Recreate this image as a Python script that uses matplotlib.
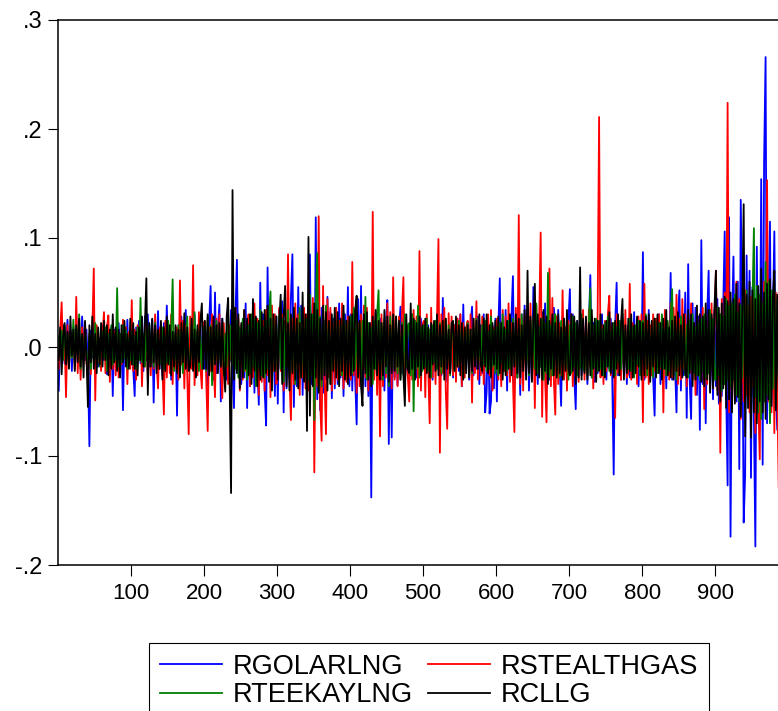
import numpy as np
import matplotlib
matplotlib.use("Agg")
import matplotlib.pyplot as plt

plt.rcParams["font.family"] = ["Liberation Sans", "DejaVu Sans"]

# Daily returns in thousandths, every other observation, 10 values per row (20 obs)
rgolarlng = [
    -40, 12, -8, 20, -15, 6, 25, -10, 14, -22,
    18, -5, 30, -14, 9, -20, 28, 4, -12, 16,
    -20, -91, 15, -10, 24, -8, 12, -18, 6, -14,
    20, -12, 8, -25, 14, -10, 18, -45, 16, 7,
    -14, 22, -6, 12, -58, 15, -9, 25, -18, 10,
    12, -20, -45, 18, -8, 24, -15, 10, -22, 28,
    -12, 30, -18, 8, 25, -51, 14, -10, 33, -20,
    18, -26, 22, -14, 38, -8, 16, -30, 12, -18,
    14, -63, 20, -12, 28, -18, 10, 34, -22, 8,
    -16, 24, -10, 30, -25, 12, -18, 20, -28, 16,
    -20, 14, -35, 22, 56, -28, -30, 50, -24, 18,
    39, -50, 26, -18, 12, -30, 20, -14, 34, -22,
    -56, 28, 80, -20, 15, -34, 24, -28, 40, -56,
    22, -36, 18, 30, -42, 26, -18, -53, 59, -24,
    30, -40, -72, 73, -26, 36, -30, 18, -45, 28,
    -52, 34, -20, 42, -60, 24, -38, 30, -28, 46,
    85, -55, 30, -36, 55, -24, 38, -44, 20, -30,
    -40, 28, 85, -34, 40, -65, 119, -48, 30, -58,
    36, -42, 24, -30, 46, -20, 32, -47, 26, -38,
    22, -34, 40, -28, 16, -45, 30, -24, 55, -36,
    30, -40, 20, -30, -71, 44, -28, 56, -42, 24,
    -36, 28, -45, 22, -138, 40, -25, 32, -30, 18,
    26, -30, 18, -40, 22, 43, -89, 20, -83, 30,
    -28, 20, -35, 16, 37, -24, 28, -32, 12, -26,
    18, -22, 30, -15, 24, -28, 14, -20, 26, -12,
    -18, 24, -14, 20, -25, 12, -30, 16, -10, 22,
    -20, 14, -26, 45, -18, 22, -32, 12, -24, 18,
    -28, 20, -14, 26, -22, 30, -36, 39, -18, 14,
    22, -30, 18, 37, -26, 14, -20, 28, -34, 20,
    -24, 30, -60, -41, 28, -61, -50, 20, -38, 26,
    -50, 18, 63, -30, 24, -22, 34, -40, 20, -18,
    28, 65, -36, 22, -28, 16, -44, 30, -20, 38,
    -22, 30, -40, 18, -30, 55, -26, 20, -34, 24,
    -18, 32, -28, 40, -36, 22, -30, 14, -24, 36,
    20, -26, 34, -18, -54, 28, -20, 16, -30, 24,
    53, -22, 30, -28, -57, 24, -18, 30, -26, 20,
    -20, 26, -34, 18, 66, -28, 22, -32, 14, -24,
    18, -24, 30, -16, 22, -30, 14, -20, 26, -28,
    -117, 20, 59, -26, 18, -30, 24, -22, 16, -34,
    20, -28, 14, -22, 32, -18, 26, -36, 12, -24,
    87, -30, 22, -26, 34, -20, 18, -28, -63, 26,
    -22, 30, -34, 16, -28, 24, -38, 20, -26, 68,
    -30, 24, -18, -60, 30, 52, -40, 20, -26, 50,
    -65, 76, -30, -66, 40, -22, 36, -44, 28, -76,
    98, -34, 26, -70, 30, 70, -40, 22, -48, 34,
    -36, 44, -52, 30, -45, 38, 106, -40, -127, 119,
    -174, 20, 83, -38, -50, 60, -112, 135, 40, -161,
    -118, 84, -40, 70, -120, 55, -60, -183, 92, -50,
    -60, 154, -108, 172, 266, -70, 40, 115, -55, 30,
    106, -40, -76, 50,
]

rstealthgas = [
    -20, 15, 41, -12, 8, -46, 20, -18, 10, -8,
    14, -20, 46, -24, 12, -30, 18, -8, 22, -15,
    -18, 10, -25, 16, 72, -49, 20, -14, 8, -22,
    12, 32, -24, 18, 29, -32, 10, -20, 15, -26,
    20, -28, 12, -16, 25, -10, 18, -34, 14, -20,
    43, -22, 16, -30, 20, -12, 24, -36, 10, -18,
    22, -30, 14, -26, 18, -20, 30, -14, -38, 16,
    20, -18, -62, 24, -28, 16, -24, 30, -34, 12,
    -20, 18, -30, 61, -16, 24, -38, 20, -26, -80,
    28, -20, 75, -35, 14, -26, 32, -18, -38, 20,
    24, -30, -77, 18, -22, 30, -16, -46, 26, -20,
    30, -18, -47, 22, -26, 14, -34, 20, -12, 28,
    -24, 36, -18, 26, -40, 20, -30, 34, -22, 16,
    30, -36, 22, -28, 40, -20, 26, -44, 18, -32,
    24, -40, 34, -26, 20, -46, 38, -22, 30, -34,
    -28, 36, -22, 30, -40, 24, -18, 85, -30, -67,
    26, -34, 40, -20, 30, -44, 22, -28, 36, -38,
    30, -40, 36, -26, 45, -115, 28, -36, 120, -50,
    -86, 56, -30, -80, 44, -28, 36, -40, 22, -34,
    36, -30, 24, -26, 40, -38, 20, -32, 28, -24,
    -30, 78, -26, 34, -42, 22, -36, 30, -20, 38,
    -28, 36, -40, 20, -34, 124, -30, 26, -44, 22,
    -82, 30, -36, 24, -28, 40, -22, 32, -38, 64,
    -30, 22, -36, 28, -24, 30, 64, -40, 18, -26,
    -50, 26, -30, 34, -22, 28, -36, 88, -40, 20,
    24, -46, 30, -20, -70, 36, -28, 22, -34, 26,
    99, -97, 30, -24, 36, -40, -75, 31, -22, 28,
    -26, 20, -32, 26, -18, 30, -36, 22, -28, 18,
    24, -20, 30, -51, 26, -24, 42, -30, 20, -26,
    28, -34, 22, -18, 30, -26, 34, -40, 18, -22,
    26, -30, 20, -36, 34, -22, 28, -26, 40, -32,
    22, -30, -78, 36, -28, 121, -34, 26, -40, 30,
    -26, 34, -22, 40, -30, 24, -56, 38, -20, 28,
    105, -64, 30, -28, -69, 24, 72, -36, 45, -30,
    -62, 28, -34, 22, -26, 52, -30, 18, -40, 24,
    -22, 30, -36, 24, -28, 20, -32, 26, -20, 34,
    -30, 22, -26, 34, -18, 28, -38, 20, -24, 30,
    211, -28, 20, -34, 24, -22, 30, 47, -26, 18,
    22, -65, 30, -24, 18, -30, 26, -20, 34, -28,
    -24, 58, -30, 22, -26, 18, -34, 28, -20, 30,
    -69, 58, -28, 24, -34, 20, -26, 30, -22, 26,
    -24, 30, -20, 28, -60, 34, -26, 22, -30, 40,
    -28, 36, -22, 48, -34, 26, -30, 44, -20, 30,
    -36, 28, -24, 40, -30, 22, -44, 34, -26, 30,
    -30, 36, -57, 24, -34, 30, -26, 40, -38, 28,
    70, -40, 30, -97, 44, -36, 50, -30, 224, -60,
    40, -55, 36, -48, 60, -30, 44, -66, 30, -50,
    52, -44, 38, -60, 46, -36, 56, -79, 40, -50,
    -103, 48, -40, 60, -30, 153, -50, 36, -60, 44,
    -79, 50, -40, -129,
]

rteekaylng = [
    10, -8, 15, -12, 20, -5, 12, -18, 8, -10,
    25, -14, 18, -6, 30, -20, 10, -12, 16, -8,
    -15, 12, -20, 8, -10, 22, -14, 6, -18, 10,
    14, -10, 18, -22, 12, -8, 20, -16, 10, -12,
    54, -18, 12, -14, 20, -10, 16, -20, 8, -12,
    14, -16, 10, -20, 18, -12, 45, -14, 12, -18,
    16, -10, 20, -14, 8, -18, 22, -12, 14, -16,
    -12, 18, -20, 10, -14, 24, -16, 12, 62, -22,
    12, -18, 20, -10, 16, -24, 14, -12, 28, -16,
    -14, 20, -18, 32, -12, 16, -22, 10, -20, 18,
    14, -22, 28, -16, 20, -35, 18, -12, 24, -20,
    16, -14, 22, -26, 12, -18, 30, -12, 20, -16,
    36, -20, 24, -28, 18, -14, 26, -22, 16, -30,
    20, -24, 30, -18, 26, -36, 22, -20, 34, -26,
    18, -28, 24, -20, 30, 51, -34, 26, -22, 20,
    -24, 30, -20, 26, -32, 22, -18, 34, -26, 20,
    -22, 28, -34, 24, -20, 36, -28, 22, -30, 26,
    20, -30, 48, -26, 30, -67, 40, 86, -40, 28,
    -36, 30, -24, 38, -28, 22, -34, 26, -20, 30,
    -22, 26, -30, 20, -26, 32, -18, 24, -28, 22,
    28, -24, 36, -20, 30, -26, 22, -32, 24, -18,
    46, -30, 22, -26, 18, -34, 24, -20, 30, 52,
    -28, 22, -30, 26, -24, 18, -36, 28, -20, 24,
    -20, 28, -24, 18, -30, 22, -26, 30, -18, 20,
    22, -26, 30, -59, 24, -20, 38, -28, 18, -22,
    20, -18, 26, -22, 16, -28, 20, -14, 24, -20,
    -16, 22, -24, 18, -20, 26, -14, 20, -26, 16,
    18, -22, 14, -18, 24, -16, 20, -28, 16, -14,
    22, -20, 16, -24, 18, -14, 26, -20, 12, -18,
    20, -16, 24, -22, 14, -20, 28, -18, 16, -24,
    18, -26, 22, -14, 30, -20, 16, -22, 24, -18,
    -20, 26, -16, 22, -28, 18, -24, 30, -14, 20,
    -22, 18, -26, 24, -16, 28, -20, 40, -24, 18,
    -18, 26, -30, 22, -24, 68, -28, 20, -26, 22,
    30, -22, 18, -28, 24, -16, 26, -20, 22, -30,
    20, -24, 28, -18, 22, -26, 16, -20, 30, -18,
    -22, 18, -26, 24, 54, -28, 20, -18, 26, -22,
    24, -20, 16, -26, 22, -18, 28, -22, 14, -20,
    22, -26, 18, -14, 24, -20, 30, -24, 16, -18,
    -20, 26, -22, 18, -28, 20, -16, 24, -26, 22,
    24, -18, 30, -26, 20, -22, 18, -28, 26, -20,
    -24, 22, -18, 30, -20, 16, -26, 24, -22, 28,
    53, -26, 20, -30, 24, -18, 28, -22, 18, -26,
    20, -28, 24, -20, 30, -24, 18, -26, 22, -30,
    26, -22, 30, -28, 18, -24, 34, -20, 26, -30,
    -30, 36, -26, 30, -40, 28, -34, 44, -30, 38,
    -36, 40, -30, 48, -44, 32, -50, 38, -28, 46,
    -40, 52, -34, 44, -58, 38, 109, -46, 56, -60,
    48, -66, 40, -50, 78, -44, 60, -70, 52, -38,
    60, -52, 44, -30,
]

rcllg = [
    -12, 18, -25, 10, 22, -16, 14, -20, 28, -8,
    16, -22, 20, -14, 26, -18, 12, -28, 24, -10,
    -55, 20, -14, 28, -20, 12, -24, 18, -16, 22,
    -18, 24, -12, 20, -26, 16, -20, 30, -14, 18,
    -22, 16, -28, 20, -14, 24, -18, 12, -20, 26,
    -16, 22, -20, 14, -26, 18, -12, 28, -18, 20,
    63, -44, 22, -18, 26, -14, 20, -24, 16, -20,
    24, -30, 18, -22, 28, -16, 20, -26, 14, -18,
    20, -24, 16, -28, 22, -14, 31, -20, 18, -22,
    -18, 26, -22, 16, -28, 20, -14, 24, 40, -20,
    24, -20, 30, -26, 18, -22, 28, -16, 20, -24,
    22, -18, 26, -20, -41, 28, 45, -30, -134, 144,
    -30, 36, -24, 30, -38, 22, -28, 34, -20, 26,
    -26, 30, -34, 44, -22, 28, -36, 24, -30, 32,
    -28, 34, -24, 38, -32, 26, -40, 30, -22, 28,
    -30, 24, 48, -34, 28, 56, -36, 22, -40, 30,
    -24, 36, -30, 26, -38, 22, -28, 50, -32, 30,
    -77, 101, -63, 30, -36, 40, -28, 34, -42, 26,
    -30, 38, -26, 32, -40, 24, -34, 30, -22, 36,
    -28, 32, -36, 26, -22, 38, -30, 24, -34, 28,
    -26, 30, -22, 34, 47, -28, 24, -36, -54, 30,
    -24, 32, -30, 22, -36, 28, -20, 34, -26, 24,
    -30, 22, -26, 34, -18, 28, -32, 20, -24, 30,
    -22, 28, -18, 24, -30, 20, -26, -54, 30, -20,
    -24, 40, -20, 26, -30, 22, -18, 28, -26, 20,
    -20, 26, -24, 18, -28, 22, -16, 24, -22, 30,
    -26, 20, -18, 24, -30, 26, -20, 16, -24, 22,
    24, -22, 28, -18, 20, -26, 22, -30, 18, -24,
    20, -28, 16, -22, 26, -18, 24, -20, 30, -16,
    -22, 26, -18, 30, -24, 20, -28, 22, -16, 24,
    -20, 28, -24, 22, -30, 18, -26, 24, -20, 30,
    -26, 22, -18, 30, -24, 26, -28, 20, -22, 34,
    -30, 70, -24, 28, -32, 22, 58, -26, 30, -28,
    26, -30, 34, -22, 28, -34, 24, -20, 30, -26,
    22, -28, 30, -24, 18, -30, 26, -22, 34, -20,
    -26, 30, -22, 28, -34, 24, -28, 73, -30, 26,
    -24, 28, -30, 22, -26, 34, -20, 26, -32, 24,
    -22, 30, -26, 20, -28, 24, -18, 32, -24, 22,
    -28, 24, -20, 30, -26, 22, 44, -30, 20, -24,
    26, -22, 30, -28, 20, -24, 28, -18, 24, -30,
    22, -26, 28, -20, 30, -32, 24, -18, 26, -28,
    30, -24, 22, -30, 26, -20, 34, -26, 18, -28,
    24, -30, 28, -22, 32, -26, 20, -28, 30, -24,
    -28, 34, -24, 30, -36, 22, -30, 38, -26, 30,
    -32, 28, -36, 40, -30, 34, -42, 30, -38, 36,
    70, -44, 36, -50, 40, -38, 46, -56, 42, -48,
    50, -60, 44, -52, 58, -46, 40, -64, 36, 131,
    -82, 48, -56, 60, -83, 52, -60, 44, -70, 56,
    -50, 72, -60, 50, -66, 58, -48, 62, -54, 46,
    70, -58, 48, -40,
]

series = [
    ("RGOLARLNG", rgolarlng, "#0000ff"),
    ("RSTEALTHGAS", rstealthgas, "#ff0000"),
    ("RTEEKAYLNG", rteekaylng, "#008000"),
    ("RCLLG", rcllg, "#000000"),
]

yticks = [0.3, 0.2, 0.1, 0.0, -0.1, -0.2]
ytick_labels = [".3", ".2", ".1", ".0", "-.1", "-.2"]
xticks = [100, 200, 300, 400, 500, 600, 700, 800, 900]

W, H = 778, 711
fig = plt.figure(figsize=(W / 100, H / 100), dpi=100)
ax = fig.add_axes([58 / W, (H - 565) / H, 720 / W, 545 / H])

lines = {}
for name, vals, color in series:
    y = np.asarray(vals, dtype=float) / 1000.0
    x = 1 + 2 * np.arange(len(y))
    (ln,) = ax.plot(x, y, color=color, lw=1.3, label=name)
    lines[name] = ln

ax.set_xlim(0, 986)
ax.set_ylim(-0.2, 0.3)
ax.set_yticks(yticks)
ax.set_yticklabels(ytick_labels)
ax.set_xticks(xticks)
ax.set_xticklabels([str(t) for t in xticks])

ax.spines["right"].set_visible(False)
for s in ("top", "left", "bottom"):
    ax.spines[s].set_linewidth(1.1)
ax.tick_params(axis="y", direction="out", length=7, width=0.8, pad=4, labelsize=17)
ax.tick_params(axis="x", direction="out", length=8, width=0.8, pad=5, labelsize=16)

order = ["RGOLARLNG", "RTEEKAYLNG", "RSTEALTHGAS", "RCLLG"]
leg = ax.legend(
    [lines[n] for n in order], order,
    ncol=2, loc="upper left",
    bbox_to_anchor=(149 / W, 1 - 643 / H), bbox_transform=fig.transFigure,
    frameon=True, fancybox=False, edgecolor="black", framealpha=1,
    fontsize=19.5, handlelength=2.3, handletextpad=0.4, columnspacing=0.55,
    borderpad=0.4, labelspacing=0.085, borderaxespad=0,
)
leg.get_frame().set_linewidth(0.8)

fig.savefig("out.png", dpi=100)
